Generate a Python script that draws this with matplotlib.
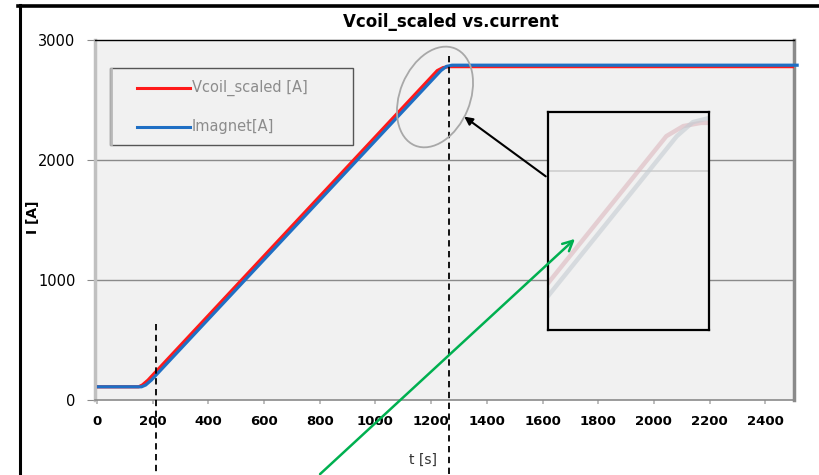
import matplotlib
matplotlib.use("Agg")
import matplotlib.pyplot as plt
from matplotlib.lines import Line2D
from matplotlib.patches import Ellipse, FancyArrowPatch, Rectangle

# Ramp profiles (time in s, current in A)
t_imagnet = [0, 160, 175, 195, 1235, 1255, 1275, 2520]
i_imagnet = [110, 110, 125, 165, 2745, 2780, 2790, 2790]
t_vcoil = [0, 150, 163, 183, 1222, 1243, 1265, 2520]
i_vcoil = [110, 110, 125, 165, 2745, 2770, 2778, 2778]
series_labels = ["Vcoil_scaled [A]", "Imagnet[A]"]

x_ticks = [0, 200, 400, 600, 800, 1000, 1200, 1400, 1600, 1800, 2000, 2200, 2400]
y_ticks = [0, 1000, 2000, 3000]
marker_times = [211, 1264]

W, H = 820, 475
fig = plt.figure(figsize=(W / 100, H / 100), dpi=100)
fig.patch.set_facecolor("white")

def fx(px):
    return px / W

def fy(py):
    return 1 - py / H

AX_L, AX_R, AX_T, AX_B = 95, 794, 40, 400
ax = fig.add_axes([fx(AX_L), fy(AX_B), (AX_R - AX_L) / W, (AX_B - AX_T) / H])
ax.set_facecolor("#f1f1f1")
ax.set_xlim(-7, 2503)
ax.set_ylim(0, 3000)

def axfx(px):
    return (px - AX_L) / (AX_R - AX_L)

def axfy(py):
    return (AX_B - py) / (AX_B - AX_T)

red, blue = "#ff1a1a", "#1f6fc4"
ax.plot(t_vcoil, i_vcoil, color=red, lw=2.3, solid_capstyle="butt", zorder=3)
ax.plot(t_imagnet, i_imagnet, color=blue, lw=2.3, clip_on=False,
        solid_capstyle="butt", zorder=4)

for y in (1000, 2000):
    ax.axhline(y, color="#8a8a8a", lw=1.0, zorder=1)

ax.set_xticks(x_ticks)
ax.set_xticklabels([str(v) for v in x_ticks], fontsize=9.5, fontweight="bold")
ax.set_yticks(y_ticks)
ax.set_yticklabels([str(v) for v in y_ticks], fontsize=10.5)
ax.tick_params(axis="x", length=3, color="#b0b0b0", pad=8, width=1.2)
ax.tick_params(axis="y", length=6, color="#8a8a8a", pad=8)

ax.spines["left"].set_color("#c0c0c0")
ax.spines["left"].set_linewidth(2.5)
ax.spines["top"].set_color("black")
ax.spines["top"].set_linewidth(1.0)
ax.spines["right"].set_color("#8a8a8a")
ax.spines["right"].set_linewidth(2.5)
ax.spines["bottom"].set_color("#8a8a8a")
ax.spines["bottom"].set_linewidth(1.2)

# marker lines at start and end of ramp
ax.plot([marker_times[0]] * 2, [630, -640], ls=(0, (3.5, 2.5)), color="black",
        lw=1.3, clip_on=False, zorder=5)
ax.plot([marker_times[1]] * 2, [2870, -640], ls=(0, (3.5, 2.5)), color="black",
        lw=1.3, clip_on=False, zorder=5)

# legend box
ax.add_patch(Rectangle((axfx(110), axfy(145)), axfx(353) - axfx(110),
                       axfy(68) - axfy(145), transform=ax.transAxes,
                       facecolor="#f1f1f1", edgecolor="#555555", lw=1.0,
                       zorder=6))
ax.add_line(Line2D([axfx(111), axfx(111)], [axfy(69), axfy(144)],
                   transform=ax.transAxes, color="#b8b8b8", lw=2.0, zorder=7))
for py, col, lab in zip((88, 127), (red, blue), series_labels):
    ax.add_line(Line2D([axfx(137), axfx(190)], [axfy(py), axfy(py)],
                       transform=ax.transAxes, color=col, lw=2.2, zorder=7))
    ax.text(axfx(192), axfy(py), lab, transform=ax.transAxes, fontsize=10.5,
            color="#8c8c8c", va="center", ha="left", zorder=7)

fig.text(fx(451), fy(22), "Vcoil_scaled vs.current", ha="center", va="center",
         fontsize=12, fontweight="heavy")
fig.text(fx(33), fy(217), "I [A]", ha="center", va="center", rotation=90,
         fontsize=10, fontweight="bold")
fig.text(fx(423), fy(460), "t [s]", ha="center", va="center", fontsize=10,
         color="#333333")

# frame strokes around the figure
fig.add_artist(Line2D([fx(18), fx(820)], [fy(6), fy(6)], color="black", lw=2.6))
fig.add_artist(Line2D([fx(20), fx(20)], [fy(5), fy(475)], color="black", lw=2.2))

# highlight around the ramp end
ell = Ellipse((435 / 100, (H - 97) / 100), width=1.05, height=0.70, angle=67.6,
              transform=fig.dpi_scale_trans, fill=False, ec="#a8a8a8", lw=1.3)
fig.add_artist(ell)

# magnified view
ins = fig.add_axes([fx(548), fy(330), (709 - 548) / W, (330 - 112) / H])
ins.set_facecolor("#f1f1f1")
ins.set_xlim(1075, 1275)
ins.set_ylim(2264, 2805)
ins.axhline(2659, color="#cfcfcf", lw=1.2)
ins.plot(t_vcoil, i_vcoil, color="#dcb8be", lw=3.2, alpha=0.6)
ins.plot(t_imagnet, i_imagnet, color="#c4ccd2", lw=3.2, alpha=0.6)
ins.set_xticks([])
ins.set_yticks([])
for s in ins.spines.values():
    s.set_color("black")
    s.set_linewidth(1.6)

arr1 = FancyArrowPatch((fx(548), fy(178)), (fx(462), fy(115)),
                       transform=fig.transFigure, arrowstyle="-|>",
                       mutation_scale=12, color="black", lw=1.5)
fig.add_artist(arr1)
arr2 = FancyArrowPatch((fx(318), fy(476)), (fx(577), fy(237)),
                       transform=fig.transFigure, arrowstyle="->",
                       mutation_scale=18, color="#00b050", lw=1.8)
fig.add_artist(arr2)

fig.savefig("out.png", dpi=100)
